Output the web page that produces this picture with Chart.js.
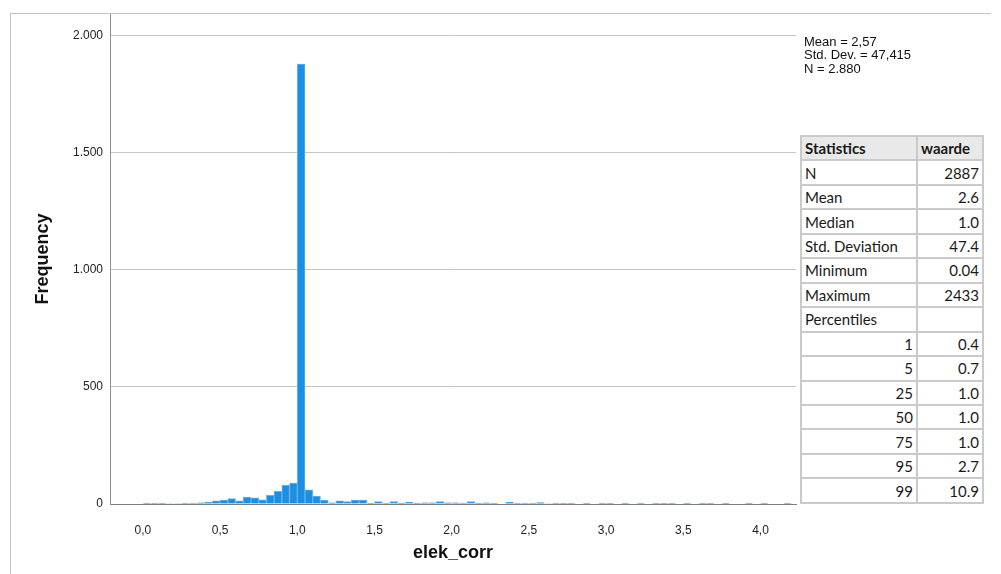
<!DOCTYPE html>
<html>
<head>
<meta charset="utf-8">
<script src="https://cdn.jsdelivr.net/npm/chart.js@4.4.0/dist/chart.umd.min.js"></script>
<style>
  body { margin: 0; background: #fff; }
  #wrap { position: relative; width: 1001px; height: 574px; overflow: hidden; }
  #frame { position: absolute; left: 10px; top: 13px; width: 980px; height: 600px;
           border-left: 1px solid #c4c4c4; border-top: 1px solid #c4c4c4; }
  #info { position: absolute; left: 804px; top: 35px; font: 13px "Liberation Sans", Arial, sans-serif;
          line-height: 13.3px; color: #111; }
  #stats { position: absolute; left: 800px; top: 135px; width: 182px; height: 369px;
           border-collapse: collapse; table-layout: fixed; background: #fff;
           font: 15px Lato, "Open Sans", sans-serif; color: #1a1a1a; }
  #stats td { border: 2px solid #cacaca; padding: 0 3px 0 3px; white-space: nowrap; height: 22px; }
  #stats td.r { text-align: right; }
  #stats tr.head td { background: #e9e9e9; font-weight: bold; }
</style>
</head>
<body>
<div id="wrap">
  <canvas id="myChart" width="1001" height="574"></canvas>
  <div id="frame"></div>
  <div id="info">Mean = 2,57<br>Std. Dev. = 47,415<br>N = 2.880</div>
  <table id="stats"></table>
</div>
<script>
// DATI
// istogramma: classi di larghezza 0,05 a partire da 0,0
const binStart = 0.0;
const binWidth = 0.05;
const frequenze = [
  1, 1, 1, 2, 2, 4, 4, 5, 8, 13,
  17, 23, 13, 30, 26, 18, 37, 54, 80, 89,
  1877, 60, 34, 17, 5, 14, 10, 17, 17, 3,
  10, 4, 10, 3, 7, 3, 5, 5, 10, 5,
  5, 4, 10, 1, 5, 1, 0, 7, 4, 4,
  4, 6, 2, 4, 1, 1, 0, 1, 0, 1,
  1, 0, 1, 0, 1, 0, 1, 3, 1, 0,
  1, 0, 1, 1, 0, 1, 0, 0, 1, 0,
  1, 0, 0, 1
];
const xTicks = [0, 0.5, 1.0, 1.5, 2.0, 2.5, 3.0, 3.5, 4.0];
const yTicks = [0, 500, 1000, 1500, 2000];

// tabella statistiche
const statNomi = ['N', 'Mean', 'Median', 'Std. Deviation', 'Minimum', 'Maximum', 'Percentiles'];
const statValori = ['2887', '2.6', '1.0', '47.4', '0.04', '2433', ''];
const percentili = ['1', '5', '25', '50', '75', '95', '99'];
const percValori = ['0.4', '0.7', '1.0', '1.0', '1.0', '2.7', '10.9'];

//CREAZIONE TABELLA
const tab = document.getElementById('stats');
let html = '<colgroup><col style="width:116px"><col style="width:66px"></colgroup>';
html += '<tr class="head"><td>Statistics</td><td>waarde</td></tr>';
for (let i = 0; i < statNomi.length; i++) {
  html += `<tr><td>${statNomi[i]}</td><td class="r">${statValori[i]}</td></tr>`;
}
for (let i = 0; i < percentili.length; i++) {
  html += `<tr><td class="r">${percentili[i]}</td><td class="r">${percValori[i]}</td></tr>`;
}
tab.innerHTML = html;

//CREAZIONE GRAFICO
let punti = [];
for (let i = 0; i < frequenze.length; i++) {
  punti.push({ x: binStart + binWidth * i + binWidth / 2, y: frequenze[i] });
}

function migliaia(v) {
  if (v >= 1000) return Math.floor(v / 1000) + '.' + String(v % 1000).padStart(3, '0');
  return String(v);
}

new Chart(document.getElementById('myChart'), {
  type: 'bar',
  data: {
    datasets: [{
      data: punti,
      backgroundColor: '#1b8fe3',
      borderColor: '#63b2ee',
      borderWidth: 1,
      barPercentage: 1,
      categoryPercentage: 1
    }]
  },
  options: {
    responsive: false,
    animation: false,
    layout: { padding: { top: 14, right: 205, left: 0, bottom: 0 } },
    plugins: { legend: { display: false }, tooltip: { enabled: false } },
    scales: {
      x: {
        type: 'linear',
        offset: false,
        min: -0.213,
        max: 4.23,
        afterBuildTicks: s => { s.ticks = xTicks.map(v => ({ value: v })); },
        afterFit: s => { s.height = 70; },
        grid: { display: false },
        border: { display: true, color: '#7d7d7d', width: 1 },
        ticks: {
          padding: 11,
          color: '#222',
          font: { family: 'Liberation Sans', size: 12 },
          callback: v => v.toFixed(1).replace('.', ',')
        },
        title: {
          display: true,
          text: 'elek_corr',
          color: '#111',
          font: { family: 'Liberation Sans', size: 18, weight: 'bold' },
          padding: { top: 0, bottom: 10 }
        }
      },
      y: {
        min: 0,
        max: 2090,
        afterBuildTicks: s => { s.ticks = yTicks.map(v => ({ value: v })); },
        afterFit: s => { s.width = 110; },
        grid: { color: '#c6c6c6', drawTicks: false },
        border: { display: true, color: '#8f8f8f', width: 1 },
        ticks: {
          padding: 7,
          color: '#222',
          font: { family: 'Liberation Sans', size: 12 },
          callback: v => migliaia(v)
        },
        title: {
          display: true,
          text: 'Frequency',
          color: '#111',
          font: { family: 'Liberation Sans', size: 18, weight: 'bold' },
          padding: { top: 32, bottom: 0 }
        }
      }
    }
  }
});
//-------------------------------------------------------------------------
</script>
</body>
</html>
